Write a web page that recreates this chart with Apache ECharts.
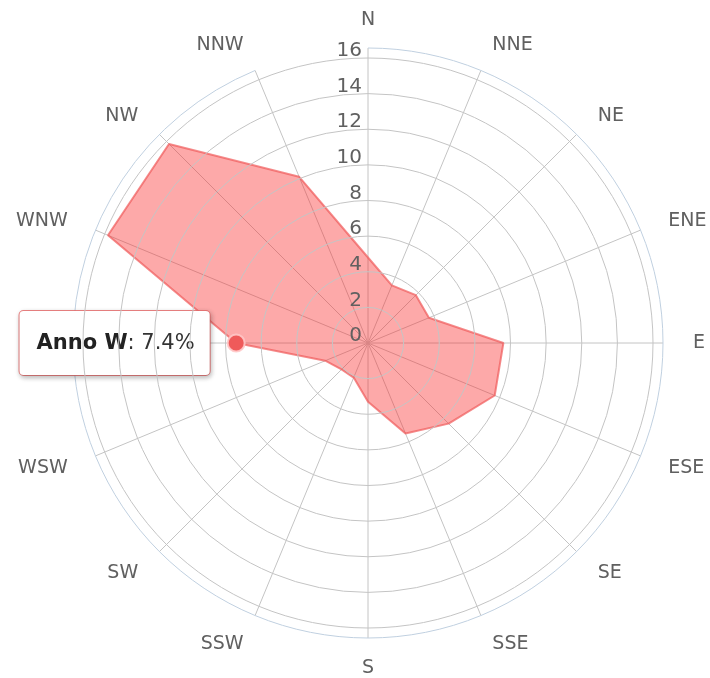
<!DOCTYPE html>
<html>
<head>
<meta charset="utf-8">
<script src="https://cdn.jsdelivr.net/npm/echarts@6/dist/echarts.min.js"></script>
<style>
html, body { margin: 0; padding: 0; background: #fff; }
#main { width: 710px; height: 678px; }
</style>
</head>
<body>
<div id="main"></div>
<script>
// wind directions, clockwise from north
var directions = ['N', 'NNE', 'NE', 'ENE', 'E', 'ESE', 'SE', 'SSE',
                  'S', 'SSW', 'SW', 'WSW', 'W', 'WNW', 'NW', 'NNW'];
// frequency (%) per direction
var annoValues = [4.8, 3.5, 3.8, 3.7, 7.6, 7.7, 6.4, 5.5,
                  3.3, 2.1, 2.1, 2.6, 7.4, 15.8, 15.8, 10.1];
var seriesName = 'Anno';
var hoverDirection = 'W';
var radiusMax = 16;
var radiusStep = 2;

var chart = echarts.init(document.getElementById('main'));

var step = 360 / directions.length;
var seriesData = [];
for (var i = 0; i <= directions.length; i++) {
    var k = i % directions.length;
    var item = {value: [annoValues[k], i * step]};
    if (directions[k] === hoverDirection && i < directions.length) {
        item.symbol = 'circle';
        item.symbolSize = 17;
        item.itemStyle = {color: '#ef5a5a', borderColor: 'rgba(255,200,200,0.9)', borderWidth: 2};
        item.label = {
            show: true,
            position: 'left',
            distance: 17,
            formatter: '{b|' + seriesName + ' ' + directions[k] + '}{n|: ' + annoValues[k] + '%}',
            backgroundColor: '#fff',
            borderColor: 'rgba(235,110,110,0.85)',
            borderWidth: 1,
            borderRadius: 4,
            padding: [22, 15, 21, 17],
            shadowColor: 'rgba(0,0,0,0.25)',
            shadowBlur: 5,
            shadowOffsetX: 1,
            shadowOffsetY: 2,
            rich: {
                b: {fontFamily: 'DejaVu Sans', fontSize: 21, fontWeight: 'bold', color: '#222'},
                n: {fontFamily: 'DejaVu Sans', fontSize: 21, color: '#333'}
            }
        };
    }
    seriesData.push(item);
}

// echarts anchors direction labels by their edge; shift them so each is
// roughly centred on its anchor like the reference
var directionLabels = directions.map(function (d, i) {
    var a = i * step;
    var pad;
    if (a === 90 || a === 270) {
        pad = [4, 0, 0, 0];
    } else if (a < 90 || a > 270) {
        pad = [0, 0, -12, 0];
    } else {
        pad = [-9, 0, 0, 0];
    }
    return {value: d, textStyle: {padding: pad}};
});

var option = {
    animation: false,
    polar: [
        {center: [368, 343], radius: 295},
        {center: [368, 343], radius: 285}
    ],
    angleAxis: [
        {
            polarIndex: 0,
            type: 'category',
            data: directionLabels,
            boundaryGap: false,
            startAngle: 90,
            axisLine: {show: true, lineStyle: {color: '#c0d0e0', width: 1}},
            axisTick: {show: false},
            splitLine: {show: true, lineStyle: {color: '#c4c4c4', width: 1}},
            axisLabel: {
                margin: 30,
                fontFamily: 'DejaVu Sans',
                fontSize: 19,
                color: '#606060'
            }
        },
        {
            polarIndex: 1,
            type: 'value',
            min: 0,
            max: 360,
            startAngle: 90,
            axisLine: {show: false},
            axisTick: {show: false},
            axisLabel: {show: false},
            splitLine: {show: false}
        }
    ],
    radiusAxis: [
        {
            polarIndex: 0,
            min: 0,
            max: 1,
            axisLine: {show: false},
            axisTick: {show: false},
            axisLabel: {show: false},
            splitLine: {show: false}
        },
        {
            polarIndex: 1,
            type: 'value',
            min: 0,
            max: radiusMax,
            interval: radiusStep,
            z: 3,
            axisLine: {show: false},
            axisTick: {show: false},
            splitLine: {show: true, lineStyle: {color: '#c4c4c4', width: 1}},
            axisLabel: {
                margin: 6,
                verticalAlign: 'bottom',
                padding: [0, 0, -3, 0],
                fontFamily: 'DejaVu Sans',
                fontSize: 20,
                color: '#606060'
            }
        }
    ],
    series: [{
        name: seriesName,
        type: 'line',
        coordinateSystem: 'polar',
        polarIndex: 1,
        symbol: 'none',
        data: seriesData,
        lineStyle: {color: 'rgba(240,90,90,0.7)', width: 2},
        areaStyle: {color: 'rgba(250,40,40,0.57)'},
        z: 2
    }]
};

chart.setOption(option);
</script>
</body>
</html>
